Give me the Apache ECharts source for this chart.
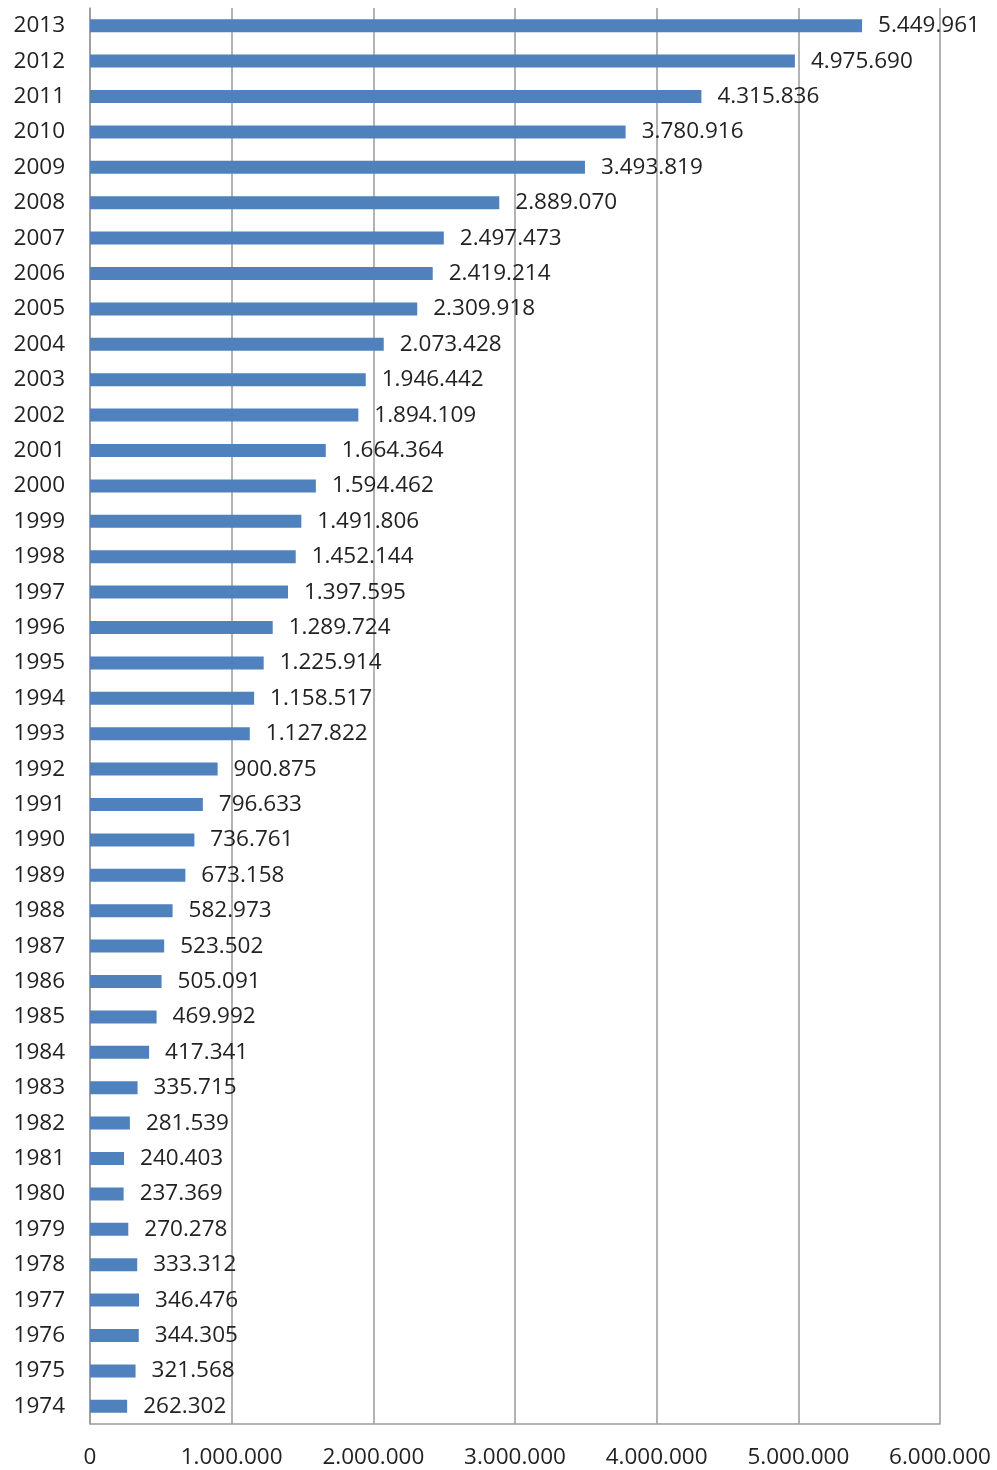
<!DOCTYPE html>
<html>
<head>
<meta charset="utf-8">
<script src="https://cdn.jsdelivr.net/npm/echarts@6/dist/echarts.min.js"></script>
<style>
  html, body { margin: 0; padding: 0; background: #fff; }
  #chart { width: 997px; height: 1470px; }
</style>
</head>
<body>
<div id="chart"></div>
<script>
// years from 1974 (bottom) to 2013 (top)
var years = ['1974','1975','1976','1977','1978','1979','1980','1981','1982','1983',
  '1984','1985','1986','1987','1988','1989','1990','1991','1992','1993',
  '1994','1995','1996','1997','1998','1999','2000','2001','2002','2003',
  '2004','2005','2006','2007','2008','2009','2010','2011','2012','2013'];
var values = [262302, 321568, 344305, 346476, 333312, 270278, 237369, 240403, 281539, 335715,
  417341, 469992, 505091, 523502, 582973, 673158, 736761, 796633, 900875, 1127822,
  1158517, 1225914, 1289724, 1397595, 1452144, 1491806, 1594462, 1664364, 1894109, 1946442,
  2073428, 2309918, 2419214, 2497473, 2889070, 3493819, 3780916, 4315836, 4975690, 5449961];

function fmt(v) {
  return String(v).replace(/\B(?=(\d{3})+(?!\d))/g, '.');
}

var myChart = echarts.init(document.getElementById('chart'));
myChart.setOption({
  animation: false,
  textStyle: { fontFamily: 'Open Sans' },
  grid: { left: 90, right: 57, top: 8, bottom: 46, containLabel: false },
  xAxis: {
    type: 'value',
    min: 0,
    max: 6000000,
    interval: 1000000,
    axisLine: { show: true, lineStyle: { color: '#9a9a9a', width: 1.5 } },
    axisTick: { show: false },
    splitLine: { show: true, lineStyle: { color: '#9a9a9a', width: 1.5 } },
    axisLabel: {
      fontSize: 22.5,
      color: '#222',
      margin: 22,
      formatter: function (v) { return fmt(v); }
    }
  },
  yAxis: {
    type: 'category',
    data: years,
    axisLine: { show: true, lineStyle: { color: '#9a9a9a', width: 1.5 } },
    axisTick: { show: false },
    axisLabel: { fontSize: 22.5, color: '#222', margin: 25 }
  },
  series: [{
    type: 'bar',
    data: values,
    barWidth: 13,
    itemStyle: { color: '#4f81bd' },
    label: {
      show: true,
      position: 'right',
      distance: 16,
      fontSize: 22.5,
      color: '#222',
      formatter: function (p) { return fmt(p.value); }
    }
  }]
});
</script>
</body>
</html>
